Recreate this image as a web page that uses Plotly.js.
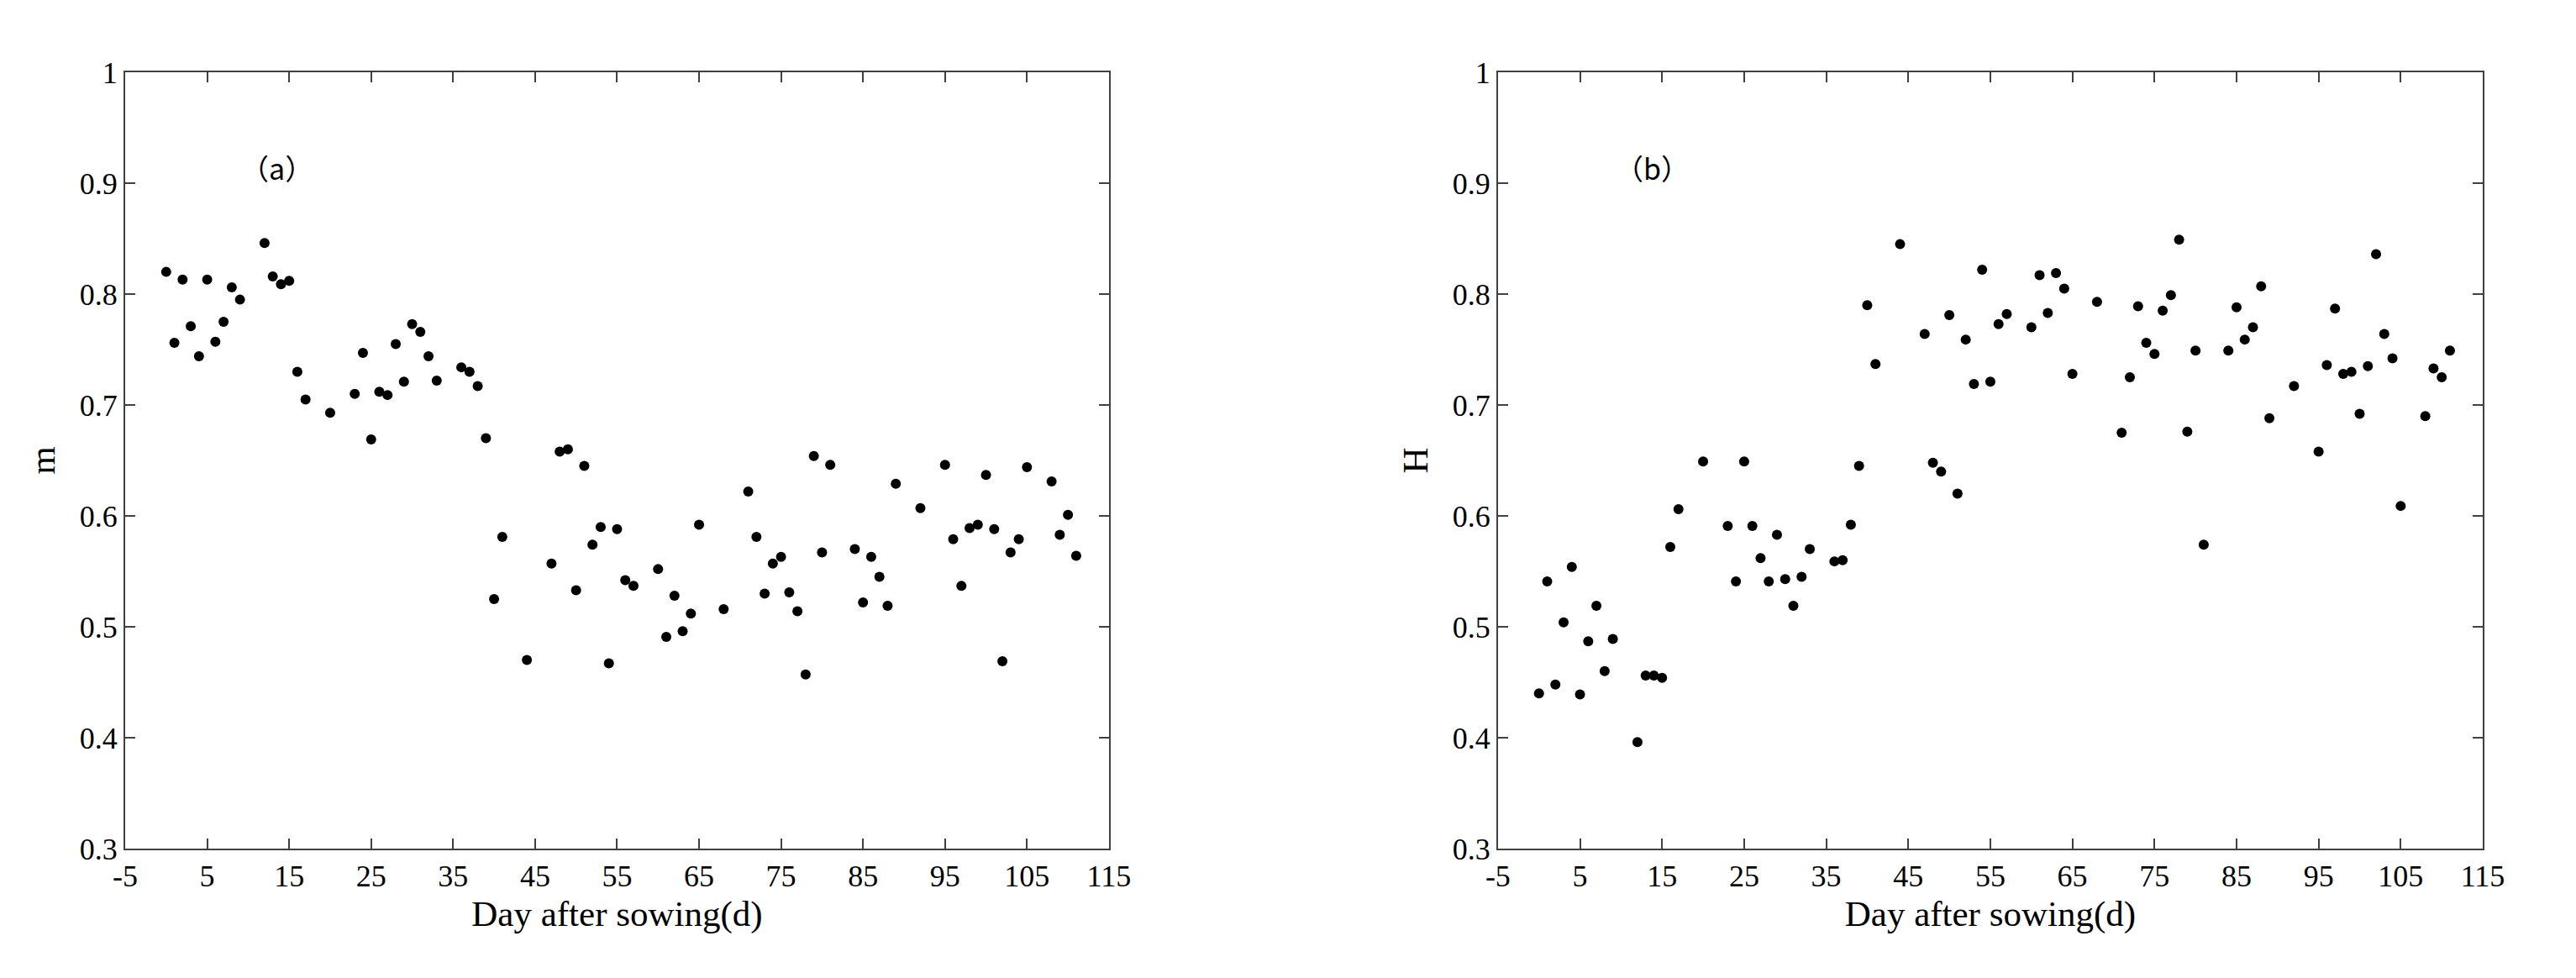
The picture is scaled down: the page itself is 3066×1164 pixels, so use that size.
<!DOCTYPE html>
<html>
<head>
<meta charset="utf-8">
<script src="https://cdn.plot.ly/plotly-3.0.1.min.js"></script>
<style>html,body{margin:0;padding:0;background:#fff;}</style>
</head>
<body>
<div id="chart" style="width:3066px;height:1164px;"></div>
<script>
// Days after sowing (shared by both panels)
const days = [0,1,2,3,4,5,6,7,8,9,12,13,14,15,16,17,20,23,24,25,26,27,28,29,30,31,32,33,
  36,37,38,39,40,41,44,47,48,49,50,51,52,53,54,55,56,57,60,61,62,63,64,65,68,
  71,72,73,74,75,76,77,78,79,80,81,84,85,86,87,88,89,92,95,96,97,98,99,100,101,102,103,104,105,
  108,109,110,111];

// Panel (a): m
const mValues = [0.820,0.756,0.813,0.771,0.744,0.813,0.757,0.775,0.806,0.795,
  0.846,0.816,0.809,0.812,0.730,0.705,0.693,
  0.710,0.747,0.669,0.712,0.709,0.755,0.721,0.773,0.766,0.744,0.722,
  0.734,0.730,0.717,0.670,0.525,0.581,0.470,
  0.557,0.658,0.660,0.533,0.645,0.574,0.590,0.467,0.588,0.542,0.537,
  0.552,0.491,0.528,0.496,0.512,0.592,0.516,
  0.622,0.581,0.530,0.557,0.563,0.531,0.514,0.457,0.654,0.567,0.646,
  0.570,0.522,0.563,0.545,0.519,0.629,0.607,
  0.646,0.579,0.537,0.589,0.592,0.637,0.588,0.469,0.567,0.579,0.644,
  0.631,0.583,0.601,0.564];

// Panel (b): H
const hValues = [0.440,0.541,0.448,0.504,0.554,0.439,0.487,0.519,0.460,0.489,
  0.396,0.456,0.456,0.454,0.572,0.606,0.649,
  0.591,0.541,0.649,0.591,0.562,0.541,0.583,0.543,0.519,0.545,0.570,
  0.559,0.560,0.592,0.645,0.790,0.737,0.845,
  0.764,0.648,0.640,0.781,0.620,0.759,0.719,0.822,0.721,0.773,0.782,
  0.770,0.817,0.783,0.819,0.805,0.728,0.793,
  0.675,0.725,0.789,0.756,0.746,0.785,0.799,0.849,0.676,0.749,0.574,
  0.749,0.788,0.759,0.770,0.807,0.688,0.717,
  0.658,0.736,0.787,0.728,0.730,0.692,0.735,0.836,0.764,0.742,0.609,
  0.690,0.733,0.725,0.749];

const xTickVals = [-5,5,15,25,35,45,55,65,75,85,95,105,115];
const xTickText = ["-5","5","15","25","35","45","55","65","75","85","95","105","115"];
const yTickVals = [0.3,0.4,0.5,0.6,0.7,0.8,0.9,1];
const yTickText = ["0.3","0.4","0.5","0.6","0.7","0.8","0.9","1"];
const xTitle = "Day after sowing(d)";
const yTitles = ["m","H"];
const panelLabels = ["（a）","（b）"];

const serif = "Liberation Serif, Times New Roman, serif";
const axisColor = "#404040";

function xAxis(domain) {
  return {
    domain: domain, range: [-5,115], tickvals: xTickVals, ticktext: xTickText,
    ticks: "inside", ticklen: 12, tickwidth: 2, tickcolor: axisColor,
    showline: true, linecolor: axisColor, linewidth: 2, mirror: "ticks",
    showgrid: false, zeroline: false,
    tickfont: {family: serif, size: 36, color: "#000"},
    title: {text: xTitle, font: {family: serif, size: 43, color: "#000"}, standoff: 10}
  };
}
function yAxis(anchor, title) {
  return {
    domain: [0.1323, 0.9261], range: [0.3,1], anchor: anchor,
    tickvals: yTickVals, ticktext: yTickText,
    ticks: "inside", ticklen: 12, tickwidth: 2, tickcolor: axisColor,
    showline: true, linecolor: axisColor, linewidth: 2, mirror: "ticks",
    showgrid: false, zeroline: false,
    tickfont: {family: serif, size: 36, color: "#000"},
    title: {text: title, font: {family: serif, size: 43, color: "#000"}, standoff: 16}
  };
}

const marker = {color: "#000", size: 12};
const traces = [
  {x: days, y: mValues, type: "scatter", mode: "markers", marker: marker, xaxis: "x", yaxis: "y", hoverinfo: "x+y"},
  {x: days, y: hValues, type: "scatter", mode: "markers", marker: marker, xaxis: "x2", yaxis: "y2", hoverinfo: "x+y"}
];

const labelFont = {family: "Noto Sans CJK SC, Noto Sans CJK JP, sans-serif", size: 34, color: "#000"};
const layout = {
  width: 3066, height: 1164,
  margin: {l: 0, r: 0, t: 0, b: 0},
  paper_bgcolor: "#fff", plot_bgcolor: "#fff",
  showlegend: false,
  xaxis: Object.assign(xAxis([0.0486, 0.4305]), {anchor: "y"}),
  yaxis: yAxis("x", yTitles[0]),
  xaxis2: Object.assign(xAxis([0.5815, 0.9638]), {anchor: "y2"}),
  yaxis2: yAxis("x2", yTitles[1]),
  annotations: [
    {xref: "x", yref: "y", x: 13.5, y: 0.914, text: panelLabels[0], showarrow: false, font: labelFont},
    {xref: "x2", yref: "y2", x: 13.8, y: 0.914, text: panelLabels[1], showarrow: false, font: labelFont}
  ]
};

Plotly.newPlot("chart", traces, layout, {staticPlot: true});
</script>
</body>
</html>
